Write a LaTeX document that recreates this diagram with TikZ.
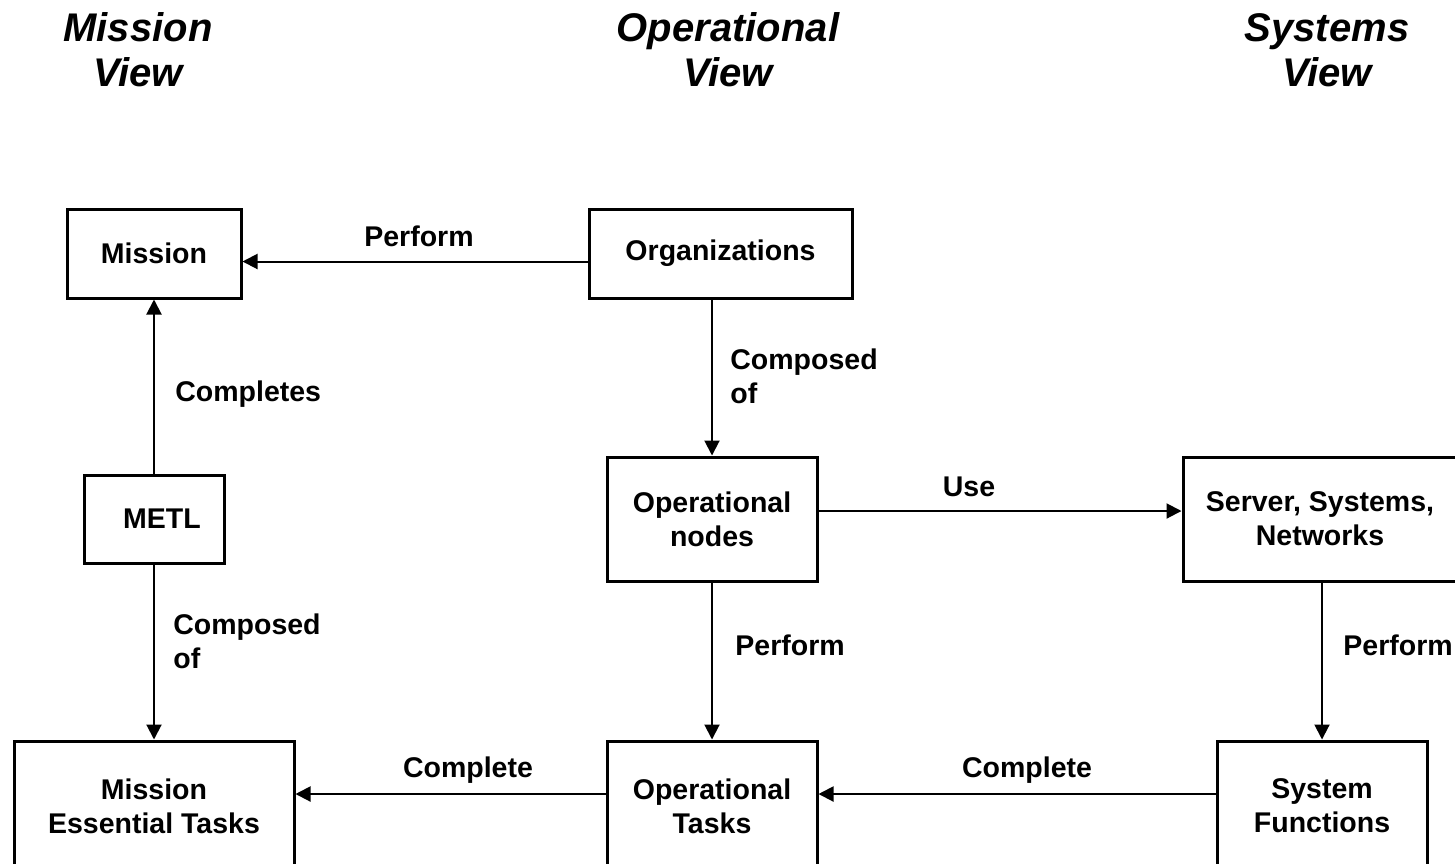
\documentclass[tikz,border=0pt]{standalone}
\usepackage{fontspec}
\setmainfont{Liberation Sans}
\usetikzlibrary{arrows.meta}

\begin{document}
\begin{tikzpicture}[x=0.5pt, y=-0.5pt,
  box/.style={draw, line width=1.5pt, inner sep=0pt, align=center,
    font=\fontsize{14.25}{17}\selectfont\bfseries},
  lbl/.style={inner sep=0pt, align=left, font=\fontsize{14.25}{17}\selectfont\bfseries},
  head/.style={inner sep=0pt, align=center, font=\fontsize{20}{22.5}\selectfont\bfseries\itshape},
  arr/.style={line width=1pt, -{Triangle[length=7.5pt, width=7.5pt]}}]
  \useasboundingbox (0, 0) rectangle (1455, 863);
  \clip (0, 0) rectangle (1455, 863);
  % headings
  \node[head] (hmission) at (138, 50) {Mission\\View};
  \node[head] (hop) at (728, 50) {Operational\\View};
  \node[head] (hsys) at (1327, 50) {Systems\\View};
  % boxes
  \node[box, minimum width=87pt, minimum height=44.5pt] (mission) at (154, 253.5) {Mission};
  \node[box, minimum width=131.5pt, minimum height=44.5pt] (org) at (720.5, 253.5) {Organizations};
  \node[box, minimum width=70pt, minimum height=44pt] (metl) at (154, 519) {\hspace{8pt}METL};
  \node[box, minimum width=105pt, minimum height=62pt] (opnodes) at (712, 519) {Operational\\nodes};
  \node[box, minimum width=137pt, minimum height=62pt] (server) at (1320, 519) {Server, Systems,\\Networks};
  \node[box, minimum width=140pt, minimum height=65pt] (met) at (154, 806) {Mission\\Essential Tasks};
  \node[box, minimum width=105pt, minimum height=65pt] (optasks) at (712, 806) {Operational\\Tasks};
  \node[box, minimum width=105pt, minimum height=65pt] (sysfun) at (1322, 806) {System\\Functions};
  % connectors
  \draw[arr] ([yshift=-4pt]org.west) -- ([yshift=-4pt]mission.east);
  \draw[arr] (metl.north) -- (mission.south);
  \draw[arr] (metl.south) -- (met.north);
  \draw[arr] (org.south -| opnodes) -- (opnodes.north);
  \draw[arr] ([yshift=4pt]opnodes.east) -- ([yshift=4pt]server.west);
  \draw[arr] (opnodes.south) -- (optasks.north);
  \draw[arr] (server.south -| sysfun) -- (sysfun.north);
  \draw[arr] ([yshift=6pt]sysfun.west) -- ([yshift=6pt]optasks.east);
  \draw[arr] ([yshift=6pt]optasks.west) -- ([yshift=6pt]met.east);
  % labels
  \node[lbl] (lperform) at (419, 236) {Perform};
  \node[lbl, anchor=west] (lcompletes) at (175, 394) {Completes};
  \node[lbl, anchor=west] (lcomposed) at (730, 376) {Composed\\of};
  \node[lbl, anchor=west] (lcomposedm) at (173, 641) {Composed\\of};
  \node[lbl] (luse) at (969, 487) {Use};
  \node[lbl, anchor=west] (lperformop) at (735, 645) {Perform};
  \node[lbl, anchor=west] (lperformsys) at (1343, 645) {Perform};
  \node[lbl] (lcompletel) at (468, 770) {Complete};
  \node[lbl] (lcompleter) at (1027, 770) {Complete};
\end{tikzpicture}
\end{document}
